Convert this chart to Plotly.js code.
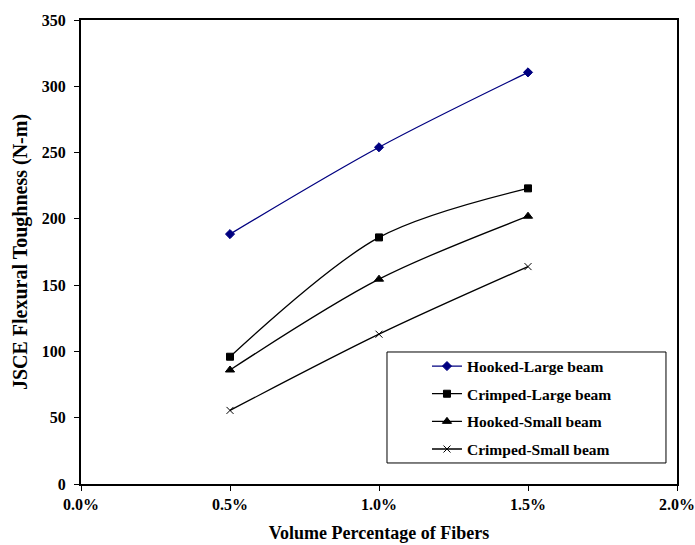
<!DOCTYPE html>
<html>
<head>
<meta charset="utf-8">
<script src="https://cdn.plot.ly/plotly-3.0.1.min.js"></script>
<style>html,body{margin:0;padding:0;background:#fff;}#chart{width:695px;height:545px;}</style>
</head>
<body>
<div id="chart"></div>
<script>
const volumePct = [0.5, 1.0, 1.5];
const hookedLarge = [188.5, 254, 310.5];
const crimpedLarge = [96, 186, 223];
const hookedSmall = [86, 154.5, 202];
const crimpedSmall = [55.5, 113, 164];
const seriesNames = ["Hooked-Large beam", "Crimped-Large beam", "Hooked-Small beam", "Crimped-Small beam"];
const xTickVals = [0, 0.5, 1.0, 1.5, 2.0];
const xTickText = ["0.0%", "0.5%", "1.0%", "1.5%", "2.0%"];
const yTickVals = [0, 50, 100, 150, 200, 250, 300, 350];

const font = "Liberation Serif, Times New Roman, serif";
const b = s => "<b>" + s + "</b>";
function tr(y, name, color, symbol, size, g) {
  return {
    x: volumePct, y: y, name: b(name), type: "scatter", mode: "lines+markers",
    legendgroup: g,
    line: {color: color, width: 1.3, shape: "spline", smoothing: 0.9},
    marker: {color: color, symbol: symbol, size: size, line: {color: color, width: 1}}
  };
}
const data = [
  tr(hookedLarge, seriesNames[0], "#000080", "diamond", 7, "a"),
  tr(crimpedLarge, seriesNames[1], "#000000", "square", 7, "b"),
  tr(hookedSmall, seriesNames[2], "#000000", "triangle-up", 8, "c"),
  tr(crimpedSmall, seriesNames[3], "#000000", "x-thin", 7, "d")
];
const layout = {
  width: 695, height: 545,
  margin: {l: 81, r: 18, t: 20, b: 61},
  paper_bgcolor: "#fff", plot_bgcolor: "#fff",
  font: {family: font, color: "#000", size: 16},
  showlegend: true,
  legend: {
    x: 0.5805, y: 0.1638, xanchor: "left", yanchor: "middle",
    borderwidth: 0, bgcolor: "rgba(0,0,0,0)",
    font: {family: font, size: 15.5, color: "#000"},
    traceorder: "grouped", tracegroupgap: 4.5,
    itemwidth: 30
  },
  shapes: [
    {type: "rect", xref: "paper", yref: "paper", x0: 0.5134, x1: 0.9815, y0: 0.0453, y1: 0.2845,
     line: {color: "#000", width: 1}, fillcolor: "#fff", layer: "below"}
  ],
  xaxis: {
    range: [0, 2.0], tickvals: xTickVals, ticktext: xTickText.map(b),
    showline: true, mirror: true, linecolor: "#000", linewidth: 2,
    ticks: "outside", ticklen: 5, tickcolor: "#000", tickwidth: 1,
    showgrid: false, zeroline: false,
    tickfont: {family: font, size: 16},
    title: {text: b("Volume Percentage of Fibers"), font: {family: font, size: 18}, standoff: 14}
  },
  yaxis: {
    range: [0, 350], tickvals: yTickVals, ticktext: yTickVals.map(v => b(String(v))),
    showline: true, mirror: true, linecolor: "#000", linewidth: 2,
    ticks: "outside", ticklen: 5, tickcolor: "#000", tickwidth: 1,
    ticklabelstandoff: 5,
    showgrid: false, zeroline: false,
    tickfont: {family: font, size: 16},
    title: {text: b("JSCE Flexural Toughness (N-m)"), font: {family: font, size: 20}, standoff: 9}
  }
};
Plotly.newPlot("chart", data, layout, {displayModeBar: false, staticPlot: true});
</script>
</body>
</html>
